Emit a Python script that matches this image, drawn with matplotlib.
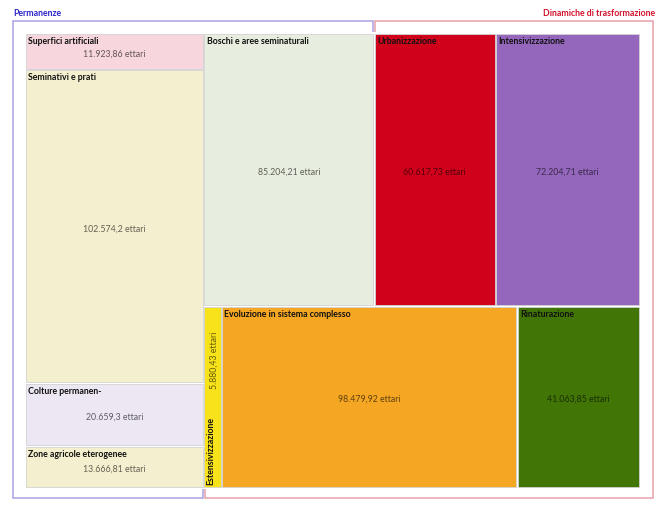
import matplotlib
matplotlib.use("Agg")
import matplotlib.pyplot as plt
import matplotlib.patches as mpatches

# ── data (ettari) ─────────────────────────────────────────────
left_names  = ["Superfici artificiali", "Seminativi e prati", "Colture permanen-", "Zone agricole eterogenee"]
left_values = [11923.86, 102574.2, 20659.3, 13666.81]
left_labels = ["11.923,86 ettari", "102.574,2 ettari", "20.659,3 ettari", "13.666,81 ettari"]
left_colors = ["#f7d6dd", "#f4f0cf", "#ece7f3", "#f4f0cf"]

top_names  = ["Boschi e aree seminaturali", "Urbanizzazione", "Intensivizzazione"]
top_values = [85204.21, 60617.73, 72204.71]
top_labels = ["85.204,21 ettari", "60.617,73 ettari", "72.204,71 ettari"]
top_colors = ["#e8eedf", "#d0021b", "#9467bd"]

bot_names  = ["Estensivizzazione", "Evoluzione in sistema complesso", "Rinaturazione"]
bot_values = [5880.43, 98479.92, 41063.85]
bot_labels = ["5.880,43 ettari", "98.479,92 ettari", "41.063,85 ettari"]
bot_colors = ["#f8e21a", "#f5a623", "#417505"]

BLUE_FRAME = "#a9a3e3"
RED_FRAME  = "#e6a0a8"
FONT = "Lato"
FS_NAME = 6.3
FS_VAL = 6.3

fig = plt.figure(figsize=(6.65, 5.13), dpi=100)
ax = fig.add_axes([0, 0, 1, 1])
ax.set_xlim(0, 665)
ax.set_ylim(513, 0)
ax.axis("off")

# plotting area of the treemap (pixel units)
X0, Y0, X1, Y1 = 25, 33, 640, 488
W, H = X1 - X0, Y1 - Y0

total = sum(left_values) + sum(top_values) + sum(bot_values)
xl = X0 + W * sum(left_values) / total
yt = Y0 + H * sum(top_values) / (sum(top_values) + sum(bot_values))

tiles = []
y = Y0
for n, v, lab, c in zip(left_names, left_values, left_labels, left_colors):
    h = (Y1 - Y0) * v / sum(left_values)
    tiles.append((xl - X0, h, X0, y, n, lab, c))
    y += h
x = xl
for n, v, lab, c in zip(top_names, top_values, top_labels, top_colors):
    w = (X1 - xl) * v / sum(top_values)
    tiles.append((w, yt - Y0, x, Y0, n, lab, c))
    x += w
x = xl
for n, v, lab, c in zip(bot_names, bot_values, bot_labels, bot_colors):
    w = (X1 - xl) * v / sum(bot_values)
    tiles.append((w, Y1 - yt, x, yt, n, lab, c))
    x += w

xb = xl + (X1 - xl) * top_values[0] / sum(top_values)

# frames
blue = [(X0 - 12, Y0 - 12), (xb - 1, Y0 - 12), (xb - 1, yt), (xl - 1, yt),
        (xl - 1, Y1 + 10), (X0 - 12, Y1 + 10)]
red = [(xb + 1, Y0 - 12), (X1 + 13, Y0 - 12), (X1 + 13, Y1 + 10),
       (xl + 1, Y1 + 10), (xl + 1, yt), (xb + 1, yt)]
ax.add_patch(mpatches.Polygon(blue, closed=True, fill=False, edgecolor=BLUE_FRAME, lw=1.1, zorder=1))
ax.add_patch(mpatches.Polygon(red, closed=True, fill=False, edgecolor=RED_FRAME, lw=1.1, zorder=1))
ax.add_patch(mpatches.Rectangle((X0 - 1, Y0 - 1), W + 2, H + 2, facecolor="white", edgecolor="none", zorder=1.5))

ax.text(X0 - 12, 14, "Permanenze", color="#2b22c8", fontsize=6.3, fontweight="bold",
        family=FONT, ha="left", va="center")
ax.text(X1 + 15, 14, "Dinamiche di trasformazione", color="#d4112c", fontsize=6.3,
        fontweight="bold", family=FONT, ha="right", va="center")

for w, h, x, y, name, lab, c in tiles:
    ax.add_patch(mpatches.Rectangle((x + 0.8, y + 0.8), w - 1.6, h - 1.6, facecolor=c,
                                    edgecolor="#d2d2d2", lw=0.6, zorder=2))
    if name == "Estensivizzazione":
        ax.text(x + 7.5, y + h - 3, name, rotation=90, fontsize=FS_NAME, fontweight="bold",
                family=FONT, color="#111111", ha="center", va="bottom", zorder=3)
        ax.text(x + w / 2 + 1.5, y + h * 0.3, lab, rotation=90, fontsize=FS_VAL,
                family=FONT, color="black", alpha=0.6, ha="center", va="center", zorder=3)
        continue
    ax.text(x + 3, y + 4, name, fontsize=FS_NAME, fontweight="bold", family=FONT,
            color="#111111", ha="left", va="top", zorder=3)
    ax.text(x + w / 2, y + h / 2 + 2.5, lab, fontsize=FS_VAL, family=FONT,
            color="black", alpha=0.6, ha="center", va="center", zorder=3)

fig.savefig("out.png", dpi=100)
